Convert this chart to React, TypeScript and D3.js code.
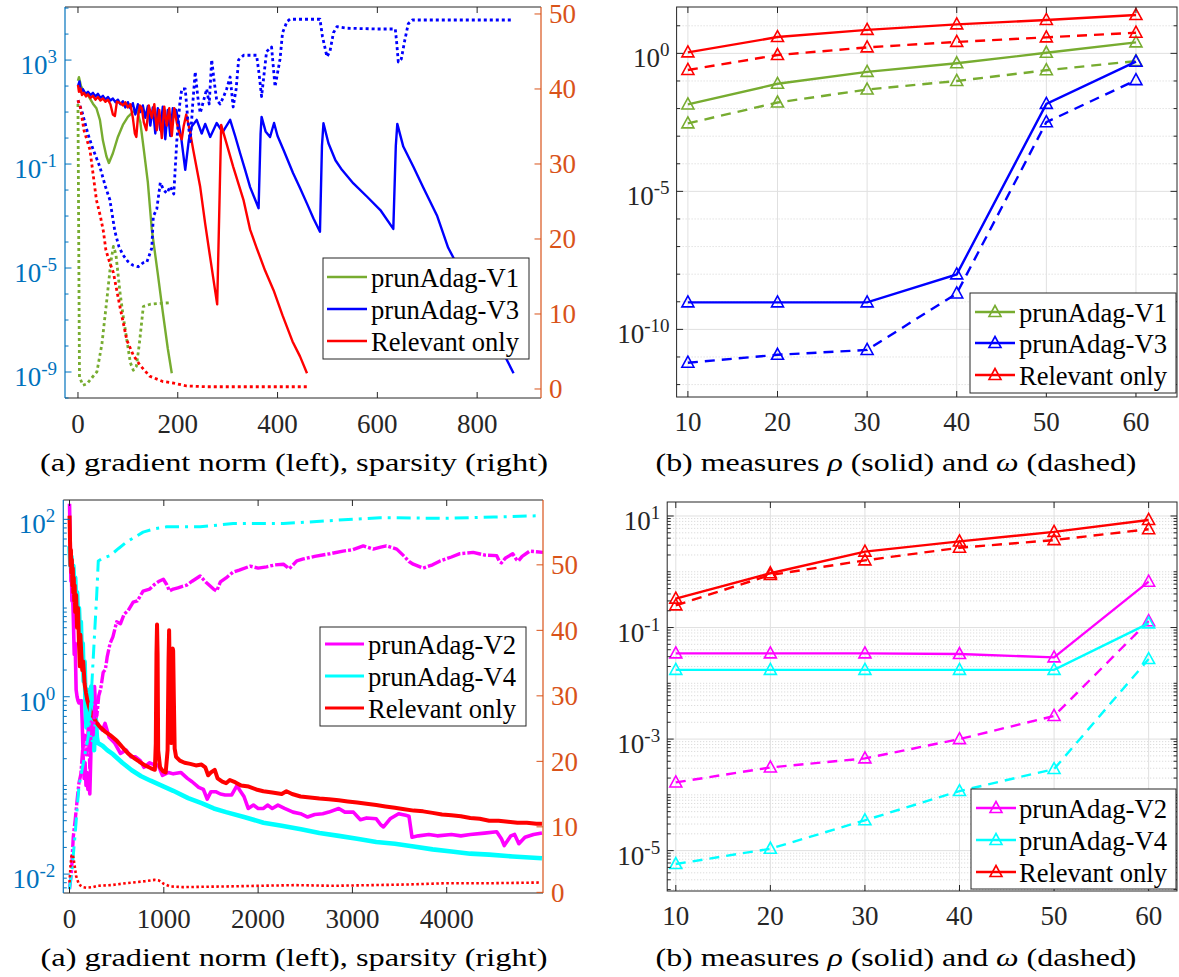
import React from "react";
import * as d3 from "d3";

type P = [number, number];

const FONT = "Liberation Serif, Tinos, DejaVu Serif, serif";
const C_LEFT = "#0072BD";
const C_RIGHT = "#D95319";
const C_AX = "#262626";
const GREEN = "#77AC30";
const BLUE = "#0000FF";
const RED = "#FF0000";
const MAG = "#FF00FF";
const CYAN = "#00FFFF";

// ---------------- Panel (a) top: gradient norm (left, log) & sparsity (right) ----------------
const aTicksX = [0, 200, 400, 600, 800];
const aLeftLabelExps = [-9, -5, -1, 3];
const aRightTicks = [0, 10, 20, 30, 40, 50];

const aV1Grad: P[] = [[0,160],[2,220],[6,100],[12,60],[20,45],[30,21],[37,14],[44,5],[50,0.8],[57,0.2],[62,0.11],[70,0.26],[80,1.1],[90,3.2],[100,6.5],[110,10],[118,12],[125,4],[132,0.35],[140,0.02],[148,3e-4],[160,6e-6],[170,2e-7],[180,8e-9],[188,9e-10]];

const aV3Grad: P[] = [[0,100],[3,150],[6,60],[10,75],[15,50],[20,60],[25,45],[30,55],[35,40],[40,50],[45,35],[50,42],[55,30],[60,38],[65,28],[70,33],[75,24],[80,30],[85,20],[90,26],[95,15],[100,24],[105,14],[110,22],[115,8],[120,20],[125,10],[130,18],[135,6],[140,17],[145,3],[150,15],[155,1.5],[160,14],[165,2],[170,16],[175,0.9],[180,12],[185,1.2],[190,14],[197,12],[207,1.0],[215,0.06],[222,0.8],[228,2.8],[238,5],[248,1.5],[255,3.5],[265,1.1],[278,3.8],[290,1.7],[305,5],[315,1.2],[325,0.26],[335,0.06],[345,0.013],[362,2e-3],[366,1.5],[368,6.5],[376,1.8],[385,1.1],[393,3.8],[400,1.2],[412,0.35],[431,0.045],[445,0.012],[459,3e-3],[472,8e-4],[485,2.5e-4],[489,0.5],[492,3.7],[502,0.63],[516,0.14],[529,0.06],[552,0.018],[580,5.4e-3],[606,1.7e-3],[632,3.2e-4],[637,0.5],[640,3.5],[652,0.47],[672,0.08],[692,0.0126],[720,1e-3],[742,6e-5],[752,2.6e-5],[800,4e-7],[840,1.6e-8],[873,9e-10]];

const aRelGrad: P[] = [[0,110],[2,60],[5,80],[8,45],[12,55],[16,40],[20,48],[25,35],[30,42],[35,30],[40,38],[45,28],[50,33],[55,25],[60,30],[65,20],[70,8],[74,7],[78,25],[85,22],[90,18],[95,24],[100,15],[105,20],[110,6],[114,1.5],[117,1.1],[120,6],[124,18],[128,14],[132,4],[137,2],[142,18],[148,6],[153,20],[158,2],[163,12],[168,1.0],[173,16],[178,3],[183,14],[188,1.2],[193,14],[198,4],[203,1.5],[208,0.9],[212,3],[217,8],[224,2],[231,0.35],[245,0.013],[255,5e-4],[265,2.5e-5],[279,4e-7],[283,1e-3],[287,3.2],[298,0.6],[311,0.08],[332,4e-3],[345,3e-4],[358,6e-5],[375,8e-6],[392,1.4e-6],[410,1.5e-7],[430,1.5e-8],[445,4e-9],[459,9e-10]];

const aV1Sparse: P[] = [[0,38],[3,1.6],[10,0.5],[18,0.7],[28,1.5],[38,2.3],[48,6],[58,12],[66,17],[71,19],[76,18],[84,13],[90,10],[98,6.5],[105,3.5],[111,2.5],[117,3],[123,6],[131,11],[145,11.3],[160,11.4],[185,11.5]];

const aV3Sparse: P[] = [[0,38.5],[8,37],[20,34],[30,32],[44,29.6],[55,27],[64,25.2],[74,21],[82,19],[90,17.9],[100,17],[110,16.5],[121,16.3],[130,16.8],[138,16.9],[148,18.8],[151,23],[158,24],[165,27.5],[172,26.5],[178,26.1],[185,27],[192,26],[198,33],[204,38],[208,40],[215,40],[220,36],[225,33],[230,38],[235,42.3],[240,39],[245,36.8],[250,38],[258,40],[263,38],[268,43.9],[273,41],[278,38.5],[285,38],[292,39],[298,40],[305,41.6],[311,37.6],[317,40],[322,43.9],[332,44.5],[358,44.5],[363,42],[368,39],[373,42],[378,45],[388,45.6],[395,40.3],[405,44],[410,47.5],[419,49],[425,49.3],[485,49.3],[490,47],[499,44.3],[505,45],[512,47.5],[519,48.3],[540,48.1],[600,48],[636,48],[639,46],[642,43.6],[648,44],[655,46.5],[662,48.7],[670,49.2],[873,49.2]];

const aRelSparse: P[] = [[0,38.5],[5,37.5],[12,34.5],[24,31.9],[37,25.2],[45,23],[51,21],[56,18.5],[63,17],[71,15.5],[84,11],[98,6.5],[111,4.5],[124,3.2],[144,1.7],[170,1.0],[191,0.8],[218,0.4],[260,0.3],[459,0.3]];

// ---------------- Panel (a) bottom ----------------
const cTicksX = [0, 1000, 2000, 3000, 4000];
const cLeftLabelExps = [-2, 0, 2];
const cRightTicks = [0, 10, 20, 30, 40, 50];

const cV2Grad: P[] = [[0,150],[5,80],[10,40],[15,20],[20,30],[25,12],[30,18],[40,8],[50,3],[60,4],[70,1.2],[80,1.0],[90,0.9],[100,0.85],[110,0.9],[120,0.85],[126,0.9],[135,0.5],[145,0.2],[155,0.12],[165,0.18],[175,0.1],[185,0.14],[195,0.09],[205,0.12],[215,0.08],[225,0.2],[235,0.6],[245,1.1],[255,0.7],[265,1.3],[275,0.8],[285,0.5],[300,0.5],[320,0.45],[350,0.42],[377,0.5],[420,0.35],[480,0.3],[540,0.23],[600,0.25],[650,0.21],[700,0.21],[750,0.19],[790,0.16],[850,0.18],[900,0.17],[940,0.17],[985,0.13],[1050,0.14],[1100,0.135],[1180,0.14],[1250,0.12],[1300,0.11],[1370,0.095],[1420,0.09],[1460,0.07],[1500,0.085],[1550,0.085],[1600,0.08],[1650,0.078],[1720,0.078],[1777,0.1],[1800,0.09],[1850,0.075],[1895,0.055],[1950,0.06],[2000,0.055],[2057,0.055],[2100,0.06],[2150,0.055],[2210,0.06],[2280,0.055],[2370,0.05],[2450,0.048],[2525,0.044],[2600,0.047],[2685,0.048],[2750,0.05],[2855,0.055],[2920,0.05],[3010,0.05],[3050,0.045],[3085,0.041],[3150,0.043],[3253,0.042],[3300,0.036],[3330,0.034],[3400,0.042],[3490,0.048],[3565,0.046],[3600,0.045],[3632,0.026],[3700,0.027],[3810,0.028],[3900,0.027],[4050,0.028],[4150,0.027],[4250,0.028],[4400,0.029],[4530,0.03],[4580,0.025],[4610,0.021],[4680,0.027],[4720,0.028],[4765,0.022],[4830,0.026],[4920,0.028],[5010,0.029]];

const cV4Grad: P[] = [[0,50],[10,30],[20,38],[30,25],[40,30],[50,18],[60,22],[70,12],[80,15],[90,8],[100,10],[110,5],[120,7],[130,3],[140,4],[150,1.5],[160,2.5],[170,0.8],[180,0.45],[190,1.2],[200,0.6],[210,0.35],[220,0.9],[230,1.3],[240,0.5],[250,0.3],[260,0.25],[270,0.5],[280,0.55],[290,0.35],[300,0.3],[350,0.28],[400,0.25],[460,0.225],[560,0.18],[660,0.148],[760,0.127],[860,0.113],[1000,0.097],[1100,0.087],[1258,0.072],[1400,0.063],[1530,0.055],[1660,0.05],[1850,0.044],[2057,0.038],[2250,0.035],[2455,0.032],[2650,0.029],[2855,0.027],[3050,0.025],[3253,0.023],[3450,0.022],[3650,0.0205],[3850,0.019],[4050,0.018],[4250,0.017],[4450,0.0166],[4700,0.0158],[5010,0.0151]];

const cRelGrad: P[] = [[0,110],[5,60],[10,30],[15,45],[20,25],[25,35],[30,18],[35,28],[40,15],[45,22],[50,12],[55,18],[60,9],[70,14],[80,6],[90,10],[100,4],[110,2.2],[115,5],[125,3],[135,2],[145,2.5],[160,1.4],[175,1.1],[190,0.9],[210,0.75],[230,0.66],[250,0.6],[280,0.52],[320,0.46],[370,0.41],[430,0.37],[500,0.32],[560,0.27],[620,0.23],[680,0.205],[740,0.185],[800,0.168],[860,0.157],[905,0.15],[915,0.3],[922,3],[928,6.5],[934,3],[940,0.25],[960,0.16],[990,0.145],[1020,0.14],[1040,0.25],[1050,2.5],[1056,5.6],[1062,2],[1070,0.4],[1080,0.3],[1088,1.5],[1094,3.5],[1099,3.3],[1106,1],[1115,0.26],[1130,0.21],[1170,0.19],[1220,0.18],[1280,0.175],[1340,0.168],[1400,0.172],[1440,0.16],[1470,0.13],[1500,0.14],[1540,0.15],[1570,0.12],[1620,0.11],[1660,0.106],[1700,0.115],[1760,0.108],[1820,0.1],[1900,0.097],[1980,0.09],[2056,0.086],[2150,0.083],[2250,0.08],[2300,0.086],[2360,0.08],[2450,0.075],[2550,0.073],[2650,0.071],[2750,0.07],[2855,0.068],[2950,0.066],[3050,0.064],[3150,0.062],[3253,0.06],[3350,0.058],[3450,0.056],[3550,0.054],[3650,0.052],[3750,0.051],[3850,0.049],[3950,0.047],[4050,0.046],[4150,0.045],[4250,0.043],[4350,0.042],[4450,0.04],[4550,0.04],[4650,0.039],[4750,0.038],[4850,0.038],[4950,0.037],[5010,0.037]];

const cV2Sparse: P[] = [[0,0.5],[20,3],[40,8.5],[60,11],[80,14],[100,16.7],[120,18],[140,22],[160,24],[180,21],[200,25],[215,19],[230,26],[250,24],[270,29],[290,27],[310,30],[330,31],[357,33.6],[380,34],[400,36],[430,38],[460,39],[500,41.3],[540,41],[580,42.5],[620,43],[675,44.3],[720,44.5],[780,46],[850,46.3],[900,47],[950,47.5],[995,47.8],[1030,47],[1060,46],[1100,46.3],[1150,46.5],[1243,46.9],[1300,47.5],[1385,48.3],[1450,47.3],[1527,46.3],[1560,46],[1600,47.4],[1660,48],[1735,48.9],[1800,49.2],[1916,49.8],[2000,49.5],[2090,49.7],[2180,50],[2268,50.1],[2330,49.4],[2410,50.6],[2480,50.9],[2600,51.3],[2763,51.7],[2900,52.1],[3000,52.3],[3115,52.9],[3220,52.4],[3300,52.7],[3360,52.9],[3470,52.4],[3550,51.3],[3600,50.5],[3645,50.1],[3750,49.5],[3850,50],[3930,50.6],[4050,51.2],[4140,51.7],[4280,51.9],[4400,51.5],[4530,51.4],[4560,50.5],[4580,50.3],[4620,51],[4700,51.7],[4740,50.8],[4760,50.6],[4800,51.3],[4880,52.1],[4950,52],[5020,51.9]];

const cV4Sparse: P[] = [[0,0.5],[30,4],[60,9],[100,16.2],[150,20],[200,23.9],[230,30],[260,38],[288,45.3],[305,50.6],[350,51],[430,51.4],[520,52.5],[606,53.5],[700,54.3],[780,55],[900,55.5],[1030,55.8],[1385,55.8],[1735,56.3],[2268,56.3],[2700,56.7],[3293,57.2],[4000,57.1],[4500,57.3],[5000,57.5]];

const cRelSparse: P[] = [[0,1.5],[10,4],[20,5.5],[35,5.8],[50,4.5],[70,2.5],[100,1.2],[140,0.8],[181,0.7],[250,0.8],[300,1.0],[440,1.1],[600,1.4],[800,1.7],[900,1.9],[950,1.8],[1000,1.3],[1065,0.9],[1200,0.8],[1660,0.9],[2000,1.0],[2400,1.1],[2800,1.0],[3200,1.1],[3600,1.2],[4000,1.4],[4500,1.4],[5000,1.5]];

// ---------------- Panels (b): measures rho (solid) and omega (dashed) ----------------
const measureX = [10, 20, 30, 40, 50, 60];
const bLabelExps = [0, -5, -10];
const dLabelExps = [1, -1, -3, -5];

const bRhoV1 = [0.0141, 0.079, 0.214, 0.437, 1.05, 2.5];
const bOmegaV1 = [2.9e-3, 0.0166, 0.049, 0.1, 0.245, 0.525];
const bRhoV3 = [9.5e-10, 9.5e-10, 9.5e-10, 9.8e-9, 0.0148, 0.5];
const bOmegaV3 = [6.2e-12, 1.2e-11, 1.8e-11, 2.0e-9, 3.2e-3, 0.107];
const bRhoRel = [1.09, 3.9, 7.1, 11.2, 16.2, 24.5];
const bOmegaRel = [0.25, 0.87, 1.65, 2.6, 3.8, 5.6];

const dRhoV2 = [0.0344, 0.0344, 0.0344, 0.0335, 0.0292, 0.664];
const dOmegaV2 = [1.67e-4, 3.1e-4, 4.5e-4, 1.0e-3, 2.6e-3, 0.13];
const dRhoV4 = [0.0174, 0.0174, 0.0174, 0.0174, 0.0174, 0.119];
const dOmegaV4 = [5.75e-6, 1.08e-5, 3.5e-5, 1.17e-4, 2.9e-4, 0.0272];
const dRhoRel = [0.33, 0.94, 2.3, 3.5, 5.2, 8.5];
const dOmegaRel = [0.25, 0.875, 1.6, 2.7, 3.7, 5.8];

// ---------------- helpers ----------------
function Pow({ x, y, exp, fill, anchor = "end" }: any) {
  return (
    <text x={x} y={y} textAnchor={anchor} fill={fill} style={{ fontFamily: FONT }} fontSize={27}>
      10<tspan fontSize={19} dy={-11}>{exp}</tspan>
    </text>
  );
}

function decadesIn(lo: number, hi: number) {
  const out: number[] = [];
  for (let e = Math.ceil(Math.log10(lo) - 1e-9); e <= Math.floor(Math.log10(hi) + 1e-9); e++) out.push(e);
  return out;
}

function Caption({ cx, y, len, children }: any) {
  return (
    <text x={cx} y={y} textAnchor="middle" style={{ fontFamily: FONT }} fontSize={26} fill="#000" textLength={len} lengthAdjust="spacingAndGlyphs">
      {children}
    </text>
  );
}

function Legend({ box, rows, lx0, lx1, tx, marker, lw }: any) {
  const [x0, y0, x1, y1] = box;
  return (
    <g>
      <rect x={x0} y={y0} width={x1 - x0} height={y1 - y0} fill="#fff" stroke={C_AX} strokeWidth={1} />
      {rows.map((r: any, i: number) => (
        <g key={i}>
          <line x1={lx0} x2={lx1} y1={r.y} y2={r.y} stroke={r.color} strokeWidth={lw} />
          {marker && <path d="M0,-6.5L6,4.5L-6,4.5Z" transform={`translate(${(lx0 + lx1) / 2},${r.y})`} fill="none" stroke={r.color} strokeWidth={1.6} />}
          <text x={tx} y={r.y + 10} style={{ fontFamily: FONT }} fontSize={27} fill="#000" textLength={148} lengthAdjust="spacingAndGlyphs">{r.label}</text>
        </g>
      ))}
    </g>
  );
}

function DualPanel(props: any) {
  const { id, box, xDomain, xTicks, leftDomain, labelExps, minorMult, rightDomain, rightTicks, solids, dotted, legend, caption } = props;
  const [L, R, T, B] = box;
  const x = d3.scaleLinear().domain(xDomain).range([L, R]);
  const yl = d3.scaleLog().domain(leftDomain).range([B, T]);
  const yr = d3.scaleLinear().domain(rightDomain).range([B, T]);
  const lineL = d3.line<P>().x((d) => x(d[0])).y((d) => yl(d[1]));
  const lineR = d3.line<P>().x((d) => x(d[0])).y((d) => yr(d[1]));
  const decs = decadesIn(leftDomain[0], leftDomain[1]);
  const minorTicks: number[] = [];
  decs.concat([decs[0] - 1]).forEach((e) => {
    minorMult.forEach((k: number) => {
      const v = k * Math.pow(10, e);
      if (v >= leftDomain[0] && v <= leftDomain[1] && !(k === 1 && labelExps.includes(e))) minorTicks.push(v);
    });
  });
  return (
    <g>
      <defs>
        <clipPath id={id}>
          <rect x={L} y={T} width={R - L} height={B - T} />
        </clipPath>
      </defs>
      <g clipPath={`url(#${id})`}>
        {solids.map((s: any, i: number) => (
          <path key={"s" + i} d={lineL(s.data) as string} fill="none" stroke={s.color} strokeWidth={s.width} strokeLinejoin="round" />
        ))}
        {dotted.map((s: any, i: number) => (
          <path key={"d" + i} d={lineR(s.data) as string} fill="none" stroke={s.color} strokeWidth={s.width} strokeDasharray={s.dash} strokeLinejoin="round" />
        ))}
      </g>
      <line x1={L} x2={R} y1={T} y2={T} stroke={C_AX} strokeWidth={1} />
      <line x1={L} x2={R} y1={B} y2={B} stroke={C_AX} strokeWidth={1} />
      <line x1={L} x2={L} y1={T} y2={B} stroke={C_LEFT} strokeWidth={1.2} />
      <line x1={R} x2={R} y1={T} y2={B} stroke={C_RIGHT} strokeWidth={1.2} />
      {xTicks.map((t: number) => (
        <g key={"x" + t}>
          <line x1={x(t)} x2={x(t)} y1={B} y2={B - 6} stroke={C_AX} />
          <line x1={x(t)} x2={x(t)} y1={T} y2={T + 6} stroke={C_AX} />
          <text x={x(t)} y={B + 35} textAnchor="middle" style={{ fontFamily: FONT }} fontSize={27} fill={C_AX}>{t}</text>
        </g>
      ))}
      {minorTicks.map((v, i) => (
        <line key={"m" + i} x1={L} x2={L + 3.5} y1={yl(v)} y2={yl(v)} stroke={C_LEFT} />
      ))}
      {labelExps.map((e: number) => (
        <g key={"l" + e}>
          <line x1={L} x2={L + 6.5} y1={yl(Math.pow(10, e))} y2={yl(Math.pow(10, e))} stroke={C_LEFT} />
          <Pow x={L - 8} y={yl(Math.pow(10, e)) + 14} exp={String(e)} fill={C_LEFT} />
        </g>
      ))}
      {rightTicks.map((t: number) => (
        <g key={"r" + t}>
          <line x1={R} x2={R - 6.5} y1={yr(t)} y2={yr(t)} stroke={C_RIGHT} />
          <text x={R + 8} y={yr(t) + 9.5} style={{ fontFamily: FONT }} fontSize={27} fill={C_RIGHT}>{t}</text>
        </g>
      ))}
      <Legend {...legend} />
      {caption}
    </g>
  );
}

function MeasurePanel(props: any) {
  const { id, box, xDomain, yDomain, labelExps, minorMult, series, legend, caption } = props;
  const [L, R, T, B] = box;
  const x = d3.scaleLinear().domain(xDomain).range([L, R]);
  const y = d3.scaleLog().domain(yDomain).range([B, T]);
  const line = d3.line<number>().x((_, i) => x(measureX[i])).y((d) => y(d));
  const decs = decadesIn(yDomain[0], yDomain[1]);
  const minorVals: number[] = [];
  decs.concat([decs[0] - 1]).forEach((e) => {
    minorMult.forEach((k: number) => {
      const v = k * Math.pow(10, e);
      if (v >= yDomain[0] && v <= yDomain[1] && !(k === 1 && labelExps.includes(e))) minorVals.push(v);
    });
  });
  const tri = "M0,-6.5L6,4.5L-6,4.5Z";
  return (
    <g>
      <defs>
        <clipPath id={id}>
          <rect x={L} y={T} width={R - L} height={B - T} />
        </clipPath>
      </defs>
      {minorVals.map((v, i) => (
        <line key={"mg" + i} x1={L} x2={R} y1={y(v)} y2={y(v)} stroke="#c9c9c9" strokeWidth={0.8} strokeDasharray="1 2" />
      ))}
      {measureX.map((t) => (
        <line key={"vg" + t} x1={x(t)} x2={x(t)} y1={T} y2={B} stroke="#e0e0e0" strokeWidth={1} />
      ))}
      {labelExps.map((e: number) => (
        <line key={"hg" + e} x1={L} x2={R} y1={y(Math.pow(10, e))} y2={y(Math.pow(10, e))} stroke="#e0e0e0" strokeWidth={1} />
      ))}
      <g clipPath={`url(#${id})`}>
        {series.map((s: any, i: number) => (
          <g key={"s" + i}>
            <path d={line(s.vals) as string} fill="none" stroke={s.color} strokeWidth={2.4} strokeDasharray={s.dashed ? "10 7" : undefined} />
            {s.vals.map((v: number, j: number) => (
              <path key={j} d={tri} transform={`translate(${x(measureX[j])},${y(v)})`} fill="none" stroke={s.color} strokeWidth={1.6} />
            ))}
          </g>
        ))}
      </g>
      <rect x={L} y={T} width={R - L} height={B - T} fill="none" stroke={C_AX} strokeWidth={1} />
      {measureX.map((t) => (
        <g key={"xt" + t}>
          <line x1={x(t)} x2={x(t)} y1={B} y2={B - 6} stroke={C_AX} />
          <line x1={x(t)} x2={x(t)} y1={T} y2={T + 6} stroke={C_AX} />
          <text x={x(t)} y={B + 34} textAnchor="middle" style={{ fontFamily: FONT }} fontSize={27} fill={C_AX}>{t}</text>
        </g>
      ))}
      {minorVals.map((v, i) => (
        <g key={"mt" + i}>
          <line x1={L} x2={L + 3.5} y1={y(v)} y2={y(v)} stroke={C_AX} />
          <line x1={R} x2={R - 3.5} y1={y(v)} y2={y(v)} stroke={C_AX} />
        </g>
      ))}
      {labelExps.map((e: number) => (
        <g key={"yl" + e}>
          <line x1={L} x2={L + 6.5} y1={y(Math.pow(10, e))} y2={y(Math.pow(10, e))} stroke={C_AX} />
          <line x1={R} x2={R - 6.5} y1={y(Math.pow(10, e))} y2={y(Math.pow(10, e))} stroke={C_AX} />
          <Pow x={L - 7} y={y(Math.pow(10, e)) + 14} exp={String(e)} fill={C_AX} />
        </g>
      ))}
      <Legend {...legend} />
      {caption}
    </g>
  );
}

const captionA = "(a) gradient norm (left), sparsity (right)";
function CaptionB({ cx, y }: any) {
  return (
    <Caption cx={cx} y={y} len={481}>
      (b) measures <tspan fontStyle="italic">ρ</tspan> (solid) and <tspan fontStyle="italic">ω</tspan> (dashed)
    </Caption>
  );
}

export default function App() {
  const DOTS = "3 3";
  return (
    <svg width={1179} height={977} style={{ position: "absolute", left: 0, top: 0, background: "#fff" }}>
      <rect x={0} y={0} width={1179} height={977} fill="#fff" />
      <DualPanel
        id="clipA"
        box={[65, 541, 7, 398]}
        xDomain={[-26, 928]}
        xTicks={aTicksX}
        leftDomain={[1e-10, 1.1e5]}
        labelExps={aLeftLabelExps}
        minorMult={[1]}
        rightDomain={[-1.2, 50.93]}
        rightTicks={aRightTicks}
        solids={[
          { data: aV1Grad, color: GREEN, width: 2.4 },
          { data: aV3Grad, color: BLUE, width: 2.4 },
          { data: aRelGrad, color: RED, width: 2.4 },
        ]}
        dotted={[
          { data: aV1Sparse, color: GREEN, width: 2.8, dash: DOTS },
          { data: aV3Sparse, color: BLUE, width: 2.8, dash: DOTS },
          { data: aRelSparse, color: RED, width: 2.8, dash: DOTS },
        ]}
        legend={{
          box: [323, 258, 529, 359],
          lx0: 327, lx1: 367, tx: 371, lw: 2.4, marker: false,
          rows: [
            { label: "prunAdag-V1", color: GREEN, y: 277 },
            { label: "prunAdag-V3", color: BLUE, y: 309 },
            { label: "Relevant only", color: RED, y: 341 },
          ],
        }}
        caption={<Caption cx={294} y={471} len={508}>{captionA}</Caption>}
      />
      <MeasurePanel
        id="clipB"
        box={[676.6, 1177, 7, 397]}
        xDomain={[8.74, 64.58]}
        yDomain={[Math.pow(10, -12.45), Math.pow(10, 1.68)]}
        labelExps={bLabelExps}
        minorMult={[1]}
        series={[
          { vals: bRhoV1, color: GREEN, dashed: false },
          { vals: bOmegaV1, color: GREEN, dashed: true },
          { vals: bRhoV3, color: BLUE, dashed: false },
          { vals: bOmegaV3, color: BLUE, dashed: true },
          { vals: bRhoRel, color: RED, dashed: false },
          { vals: bOmegaRel, color: RED, dashed: true },
        ]}
        legend={{
          box: [970, 293, 1176, 393],
          lx0: 975, lx1: 1015, tx: 1019, lw: 2.4, marker: true,
          rows: [
            { label: "prunAdag-V1", color: GREEN, y: 312 },
            { label: "prunAdag-V3", color: BLUE, y: 343 },
            { label: "Relevant only", color: RED, y: 375 },
          ],
        }}
        caption={<CaptionB cx={896} y={471} />}
      />
      <DualPanel
        id="clipC"
        box={[63.3, 543, 500, 893]}
        xDomain={[-66, 5021]}
        xTicks={cTicksX}
        leftDomain={[Math.pow(10, -2.213), Math.pow(10, 2.218)]}
        labelExps={cLeftLabelExps}
        minorMult={[1, 2, 3, 4, 5, 6, 7, 8, 9]}
        rightDomain={[-0.1, 59.9]}
        rightTicks={cRightTicks}
        solids={[
          { data: cV2Grad, color: MAG, width: 3.6 },
          { data: cV4Grad, color: CYAN, width: 4.6 },
          { data: cRelGrad, color: RED, width: 4 },
        ]}
        dotted={[
          { data: cV2Sparse, color: MAG, width: 3.4, dash: "14 2 3 2" },
          { data: cV4Sparse, color: CYAN, width: 3, dash: "14 6 3 6" },
          { data: cRelSparse, color: RED, width: 2.6, dash: "2.5 2.5" },
        ]}
        legend={{
          box: [320, 627, 526, 726],
          lx0: 325, lx1: 364, tx: 368, lw: 2.8, marker: false,
          rows: [
            { label: "prunAdag-V2", color: MAG, y: 644 },
            { label: "prunAdag-V4", color: CYAN, y: 676 },
            { label: "Relevant only", color: RED, y: 708 },
          ],
        }}
        caption={<Caption cx={294} y={966} len={507}>{captionA}</Caption>}
      />
      <MeasurePanel
        id="clipD"
        box={[667.2, 1177, 502, 891]}
        xDomain={[9.09, 63.0]}
        yDomain={[Math.pow(10, -5.724), Math.pow(10, 1.251)]}
        labelExps={dLabelExps}
        minorMult={[1, 2, 3, 4, 5, 6, 7, 8, 9]}
        series={[
          { vals: dRhoV2, color: MAG, dashed: false },
          { vals: dOmegaV2, color: MAG, dashed: true },
          { vals: dRhoV4, color: CYAN, dashed: false },
          { vals: dOmegaV4, color: CYAN, dashed: true },
          { vals: dRhoRel, color: RED, dashed: false },
          { vals: dOmegaRel, color: RED, dashed: true },
        ]}
        legend={{
          box: [971, 789, 1176, 889],
          lx0: 976, lx1: 1016, tx: 1019, lw: 2.4, marker: true,
          rows: [
            { label: "prunAdag-V2", color: MAG, y: 808 },
            { label: "prunAdag-V4", color: CYAN, y: 840 },
            { label: "Relevant only", color: RED, y: 872 },
          ],
        }}
        caption={<CaptionB cx={896} y={966} />}
      />
    </svg>
  );
}
